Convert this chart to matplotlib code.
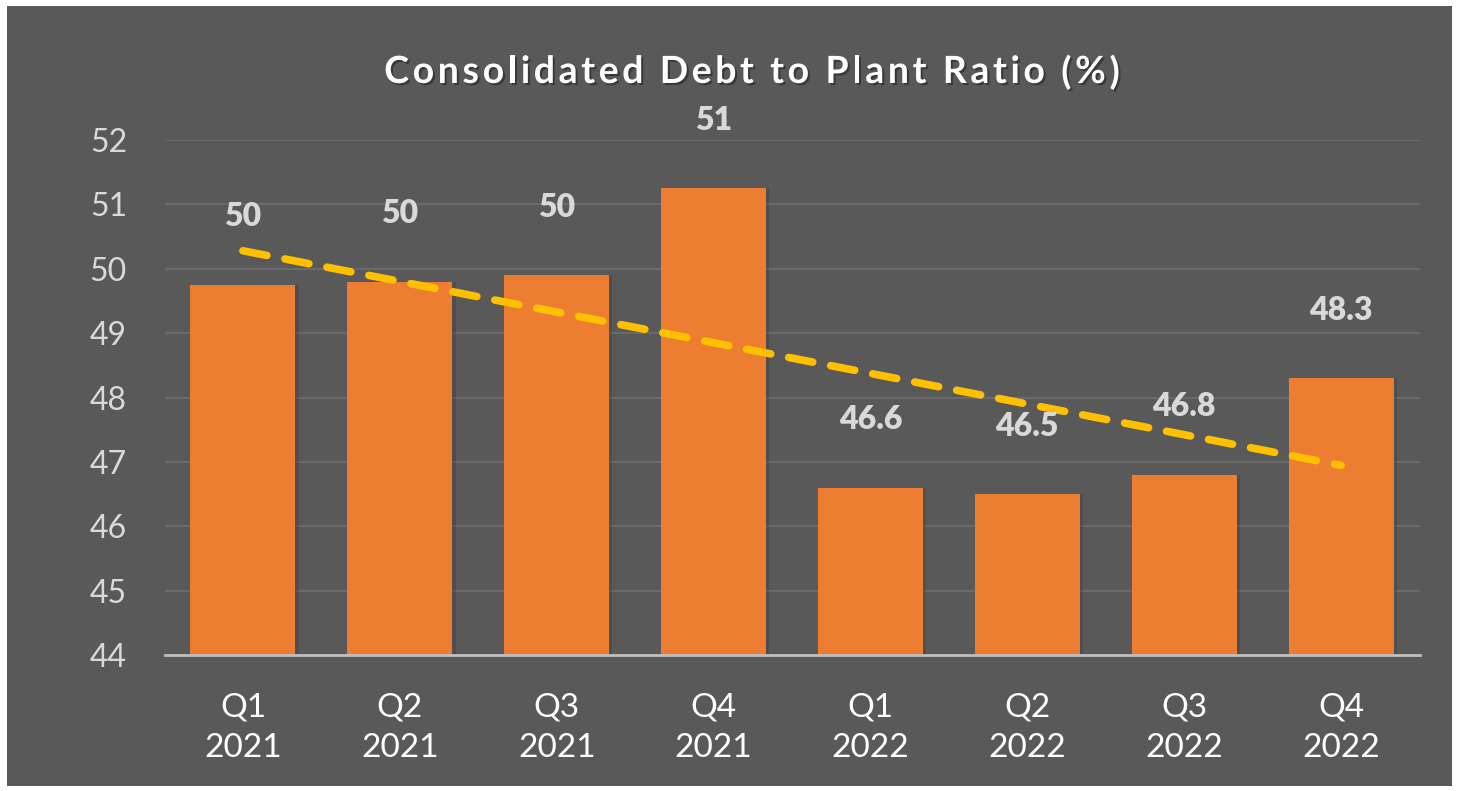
import matplotlib.pyplot as plt
import matplotlib.patches as mpatches
import matplotlib.patheffects as pe
import numpy as np

quarters = ["Q1\n2021", "Q2\n2021", "Q3\n2021", "Q4\n2021",
            "Q1\n2022", "Q2\n2022", "Q3\n2022", "Q4\n2022"]
ratio = [49.75, 49.8, 49.9, 51.25, 46.6, 46.5, 46.8, 48.3]
ratio_labels = ["50", "50", "50", "51", "46.6", "46.5", "46.8", "48.3"]
y_ticks = [44, 45, 46, 47, 48, 49, 50, 51, 52]
title = "Consolidated Debt to Plant Ratio (%)"

BG = "#595959"
BAR = "#ED7D31"
TREND = "#FFC000"
TXT = "#D9D9D9"

plt.rcParams["font.family"] = ["Lato", "DejaVu Sans"]

fig = plt.figure(figsize=(14.57, 7.91), dpi=100, facecolor="white")
# dark chart area inside a thin white border
fig.patches.append(mpatches.Rectangle((7 / 1457, 5 / 791), 1445 / 1457, 780 / 791,
                                      transform=fig.transFigure, facecolor=BG,
                                      edgecolor="none", zorder=-5))

ax = fig.add_axes([164.5 / 1457, 1 - 655 / 791, 1255 / 1457, 515 / 791])
ax.set_facecolor("none")

x = np.arange(1, len(ratio) + 1)
ax.bar(x + 0.02, ratio, width=0.67, color="#3a3a3a", alpha=0.35, zorder=2)
ax.bar(x, ratio, width=0.67, color=BAR, zorder=3)

# linear trendline
k, b = np.polyfit(x, ratio, 1)
ax.plot(x, k * x + b, color=TREND, lw=5.5, ls=(0, (3.2, 2.4)),
        dash_capstyle="round", zorder=4)

for xi, v, lab in zip(x, ratio, ratio_labels):
    ax.annotate(lab, (xi, v), xytext=(0, 49), textcoords="offset points",
                ha="center", va="center", fontsize=23, fontweight="heavy",
                color=TXT, zorder=5, annotation_clip=False)

ax.set_xlim(0.5, 8.5)
ax.set_ylim(44, 52)
ax.set_yticks(y_ticks)
ax.set_xticks(x)
ax.set_xticklabels(quarters, fontsize=24, color="white", linespacing=1.45)
ax.tick_params(axis="y", labelsize=23, labelcolor=TXT, length=0, pad=27)
ax.tick_params(axis="x", length=0, pad=27)
ax.grid(axis="y", color="#6e6e6e", lw=1.2, zorder=1)
ax.set_axisbelow(True)
for s in ["top", "right", "left"]:
    ax.spines[s].set_visible(False)
ax.spines["bottom"].set_color("#BFBFBF")
ax.spines["bottom"].set_linewidth(2)
ax.spines["bottom"].set_zorder(6)

# title with extra letter spacing, drawn one character at a time
renderer = fig.canvas.get_renderer()
tkw = dict(fontsize=27, fontweight="bold", color="white")


def text_w(s):
    t = fig.text(0, 0, s, **tkw)
    w = t.get_window_extent(renderer).width
    t.remove()
    return w


ref_w = text_w("x")
track = 3.6
full_w = text_w(title) + track * (len(title) - 1)
x0 = 752 - full_w / 2
shadow = [pe.withSimplePatchShadow(offset=(1.5, -1.5), shadow_rgbFace="black", alpha=0.35)]
for i, ch in enumerate(title):
    if ch == " ":
        continue
    xi = x0 + (text_w(title[:i] + "x") - ref_w if i else 0) + track * i
    fig.text(xi / 1457, 1 - 72 / 791, ch, ha="left", va="center",
             path_effects=shadow, **tkw)

fig.savefig("out.png", dpi=100, facecolor=fig.get_facecolor())
